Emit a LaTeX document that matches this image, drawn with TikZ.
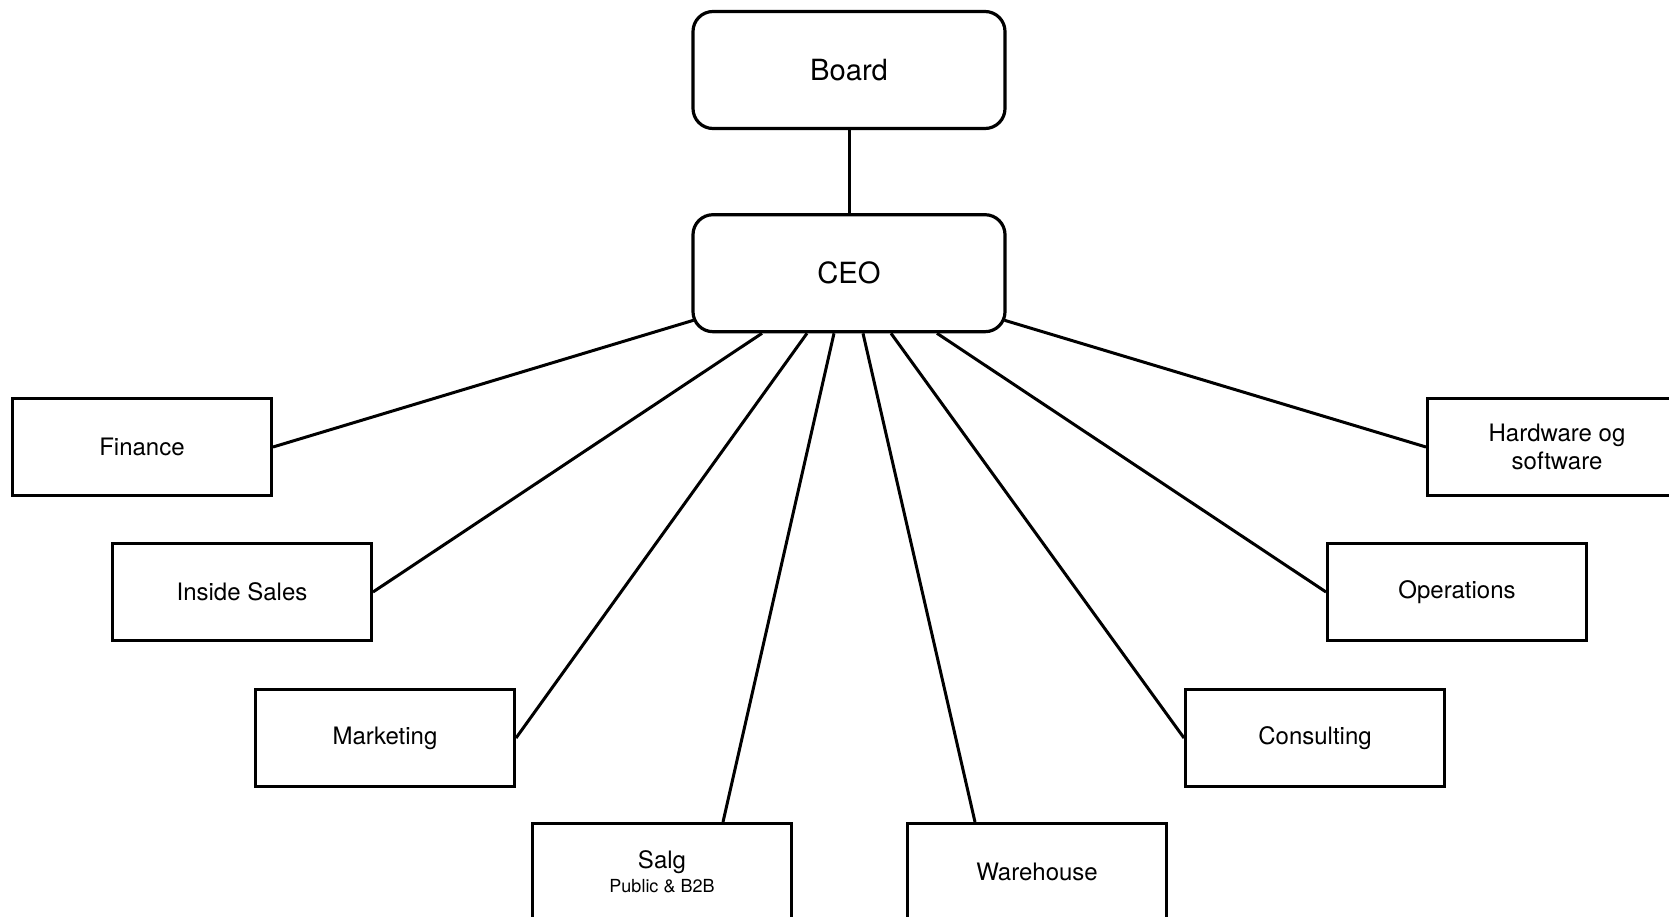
\documentclass[tikz,border=0pt]{standalone}
\usepackage{fontspec}
\setmainfont{TeX Gyre Heros}
\usetikzlibrary{positioning}

\begin{document}
\begin{tikzpicture}[x=0.5pt, y=-0.5pt,
        top/.style={draw, line width=1.6pt, rounded corners=10pt, minimum width=156pt, minimum height=58.5pt, font=\fontsize{14.6}{17}\selectfont},
        unit/.style={draw, line width=1.5pt, rectangle, minimum width=129.5pt, minimum height=48.5pt, align=center, font=\fontsize{12}{14.4}\selectfont},
        link/.style={line width=1.5pt}
    ]
        \useasboundingbox (0,0) rectangle (1669,916);
        \clip (0,0) rectangle (1669,916);

        \node [top] (board) at (849,70) {Board};
        \node [top, below=41.5pt of board] (ceo) {CEO};

        \node [unit] (finance) at (142,447) {Finance};
        \node [unit] (inside) at (242,592) {Inside Sales};
        \node [unit] (marketing) at (385,738) {Marketing};
        \node [unit] (salg) at (662,872) {Salg\\[-2.5pt]{\fontsize{9}{10}\selectfont Public \& B2B}};
        \node [unit] (warehouse) at (1037,872) {Warehouse};
        \node [unit] (consulting) at (1315,738) {Consulting};
        \node [unit] (operations) at (1457,592) {Operations};
        \node [unit] (hardware) at (1557,447) {Hardware og\\software};

        \draw [link] (board) -- (ceo);

        \draw [link] ([shift={(1pt,6.5pt)}]ceo.south west) -- (finance.east);
        \draw [link] ([xshift=-43.5pt]ceo.south) -- (inside.east);
        \draw [link] ([xshift=-21pt]ceo.south) -- (marketing.east);
        \draw [link] ([xshift=-7.5pt]ceo.south) -- ([xshift=30.5pt]salg.north);
        \draw [link] ([xshift=7pt]ceo.south) -- ([xshift=-31pt]warehouse.north);
        \draw [link] ([xshift=21pt]ceo.south) -- (consulting.west);
        \draw [link] ([xshift=44pt]ceo.south) -- (operations.west);
        \draw [link] ([shift={(-1pt,6.5pt)}]ceo.south east) -- (hardware.west);
    \end{tikzpicture}
\end{document}
